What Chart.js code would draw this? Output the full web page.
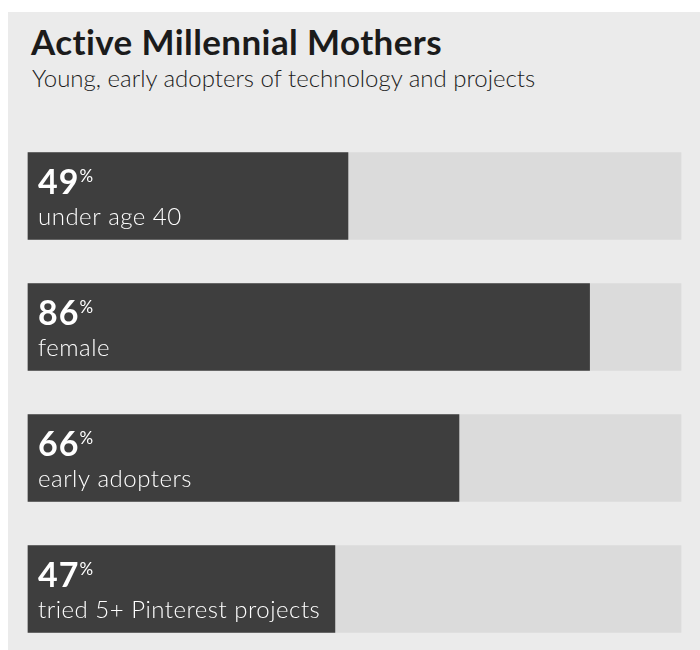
<!DOCTYPE html>
<html>
<head>
<meta charset="utf-8">
<script src="https://cdn.jsdelivr.net/npm/chart.js@4"></script>
<style>
  body { margin: 0; background: #ffffff; }
  #card { position: absolute; left: 8px; top: 12px; width: 692px; height: 638px; background: #ebebeb; }
  #title { position: absolute; left: 23px; top: 8px; font: bold 35px Lato, sans-serif; color: #1b1b1b; letter-spacing: 0.4px; white-space: nowrap; }
  #subtitle { position: absolute; left: 24px; top: 51px; font: 300 24px Lato, sans-serif; color: #1b1b1b; white-space: nowrap; }
  #wrap { position: absolute; left: 0; top: 0; width: 692px; height: 638px; }
</style>
</head>
<body>
<div id="card">
  <div id="title">Active Millennial Mothers</div>
  <div id="subtitle">Young, early adopters of technology and projects</div>
  <div id="wrap"><canvas id="barChart"></canvas></div>
</div>
<script>
const categories = ['under age 40', 'female', 'early adopters', 'tried 5+ Pinterest projects'];
const percentValues = [49, 86, 66, 47];
const trackValues = [100, 100, 100, 100];

// etiquetas dentro das barras
const labelPlugin = {
    id: 'barLabels',
    afterDatasetsDraw(chart) {
        const ctx = chart.ctx;
        const meta = chart.getDatasetMeta(0);
        ctx.save();
        ctx.fillStyle = '#ffffff';
        ctx.textBaseline = 'alphabetic';
        ctx.textAlign = 'left';
        meta.data.forEach((bar, i) => {
            const top = bar.y - bar.height / 2;
            const x = bar.base + 10;
            ctx.letterSpacing = '1px';
            ctx.font = 'bold 34px Lato, sans-serif';
            const num = String(percentValues[i]);
            ctx.fillText(num, x, top + 41);
            const w = ctx.measureText(num).width;
            ctx.letterSpacing = '0px';
            ctx.font = '17px Lato, sans-serif';
            ctx.fillText('%', x + w, top + 29);
            ctx.letterSpacing = '0.5px';
            ctx.font = '300 24px Lato, sans-serif';
            ctx.fillText(categories[i], x, top + 72);
        });
        ctx.restore();
    }
};

const barCtx = document.getElementById('barChart').getContext('2d');
new Chart(barCtx, {
    type: 'bar',
    data: {
        labels: categories,
        datasets: [{
            label: 'Percent',
            data: percentValues,
            backgroundColor: '#3e3e3e',
            grouped: false,
            clip: false,
            order: 0
        }, {
            label: 'Track',
            data: trackValues,
            backgroundColor: '#dbdbdb',
            grouped: false,
            clip: false,
            order: 1
        }]
    },
    options: {
        indexAxis: 'y',
        responsive: true,
        maintainAspectRatio: false,
        animation: false,
        barThickness: 87,
        layout: { padding: { top: 184, bottom: 61, left: 20, right: 19 } },
        plugins: {
            legend: { display: false },
            tooltip: { enabled: false }
        },
        scales: {
            x: { display: false, min: 0, max: 100 },
            y: { display: false, offset: false }
        }
    },
    plugins: [labelPlugin]
});
</script>
</body>
</html>
